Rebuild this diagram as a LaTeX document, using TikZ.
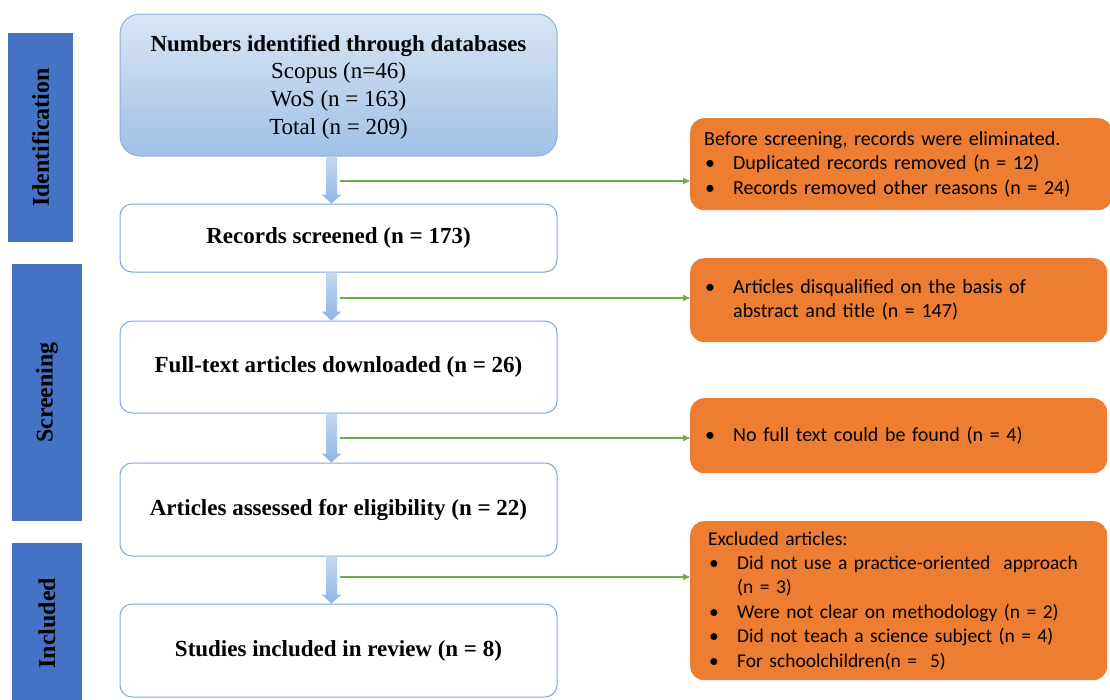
\documentclass[tikz,border=0pt]{standalone}
\usepackage{fontspec}
\setmainfont{Liberation Serif}
\newfontfamily\calfont{Carlito}
\usetikzlibrary{arrows.meta,calc}
\definecolor{phaseblue}{HTML}{4472C4}
\definecolor{boxline}{HTML}{7FA7DD}
\definecolor{topfill}{HTML}{DAE5F4}
\definecolor{botfill}{HTML}{9EC1E7}
\definecolor{arrtop}{HTML}{C5DAF0}
\definecolor{arrbot}{HTML}{8DB5E2}
\definecolor{greenline}{HTML}{70AD47}
\definecolor{orangefill}{HTML}{ED7D31}
\tikzset{
  phase/.style={rotate=90, fill=phaseblue, inner sep=0pt, font=\fontsize{24}{28}\selectfont\bfseries},
  mainbox/.style={draw=boxline, line width=1pt, fill=white, rounded corners=12pt, minimum width=437pt, align=center, font=\fontsize{23}{28}\selectfont},
  obox/.style={fill=orangefill, rounded corners=14pt, anchor=north west, inner xsep=14pt, inner ysep=0pt, align=left, font=\calfont\fontsize{20}{24.4}\selectfont},
  greenarrow/.style={draw=greenline, line width=1.4pt, -{Triangle[length=7pt,width=6pt]}},
}
\newcommand\bul{\makebox[29pt][l]{\hspace*{1pt}\textbullet}}
\newcommand\phasearrow[2]{%
  \shade[top color=arrtop,bottom color=arrbot] let \p1=($(#1.south)+(-7,0)$), \p2=($(#2.north)+(-7,0)$) in
   (\x1-5.5pt,\y1) -- (\x1+5.5pt,\y1) -- (\x1+5.5pt,\y2+9pt) -- (\x1+10pt,\y2+9pt) -- (\x1,\y2)
   -- (\x1-10pt,\y2+9pt) -- (\x1-5.5pt,\y2+9pt) -- cycle;}
\begin{document}
\begin{tikzpicture}[x=1pt,y=-1pt]
\useasboundingbox (0,0) rectangle (1110,699);
% phase bars
\node[phase, minimum width=209pt, minimum height=65pt] (ph1) at (40.5,137.5) {Identification};
\node[phase, minimum width=257pt, minimum height=70pt] (ph2) at (47,392.5) {Screening};
\node[phase, minimum width=160pt, minimum height=70pt] (ph3) at (47,623) {Included};
% main boxes
\node[mainbox, top color=topfill, bottom color=botfill, draw=boxline!90, rounded corners=20pt, minimum height=142pt] (b1) at (338.5,85)
  {\rule{0pt}{20pt}\textbf{Numbers identified through databases}\\[-1pt]Scopus (n=46)\\WoS (n = 163)\\Total (n = 209)};
\node[mainbox, minimum height=68pt] (b2) at (338.5,238) {\textbf{Records screened (n = 173)}};
\node[mainbox, minimum height=92pt] (b3) at (338.5,367) {\textbf{Full-text articles downloaded (n = 26)}};
\node[mainbox, minimum height=93pt] (b4) at (338.5,509.5) {\textbf{Articles assessed for eligibility (n = 22)}};
\node[mainbox, minimum height=93pt] (b5) at (338.5,650.5) {\textbf{Studies included in review (n = 8)}};
% down arrows
\phasearrow{b1}{b2}
\phasearrow{b2}{b3}
\phasearrow{b3}{b4}
\phasearrow{b4}{b5}
% orange boxes
\node[obox, minimum width=422pt, minimum height=92pt, text width=394pt] (o1) at (690,118)
  {Before screening, records were eliminated.\\\bul Duplicated records removed (n = 12)\\\bul Records removed other reasons (n = 24)};
\node[obox, minimum width=417pt, minimum height=84pt, text width=389pt] (o2) at (690,258)
  {\bul Articles disqualified on the basis of\\\hspace*{29pt}abstract and title (n = 147)};
\node[obox, minimum width=417pt, minimum height=75pt, text width=389pt] (o3) at (690,398)
  {\bul No full text could be found (n = 4)};
\node[obox, minimum width=417pt, minimum height=159pt, text width=381pt, inner xsep=18pt, font=\calfont\fontsize{19.5}{24.4}\selectfont] (o4) at (690,521)
  {Excluded articles:\\\bul Did not use a practice-oriented\ \ approach\\\hspace*{29pt}(n = 3)\\\bul Were not clear on methodology\ (n = 2)\\\bul Did not teach a science subject (n = 4)\\\bul For schoolchildren(n =\ \ 5)};
% green arrows
\coordinate (g1) at (340,181);
\coordinate (g2) at (340,298);
\coordinate (g3) at (340,438);
\coordinate (g4) at (340,577);
\draw[greenarrow] (g1) -- (g1 -| o1.west);
\draw[greenarrow] (g2) -- (g2 -| o2.west);
\draw[greenarrow] (g3) -- (g3 -| o3.west);
\draw[greenarrow] (g4) -- (g4 -| o4.west);
\end{tikzpicture}
\end{document}
